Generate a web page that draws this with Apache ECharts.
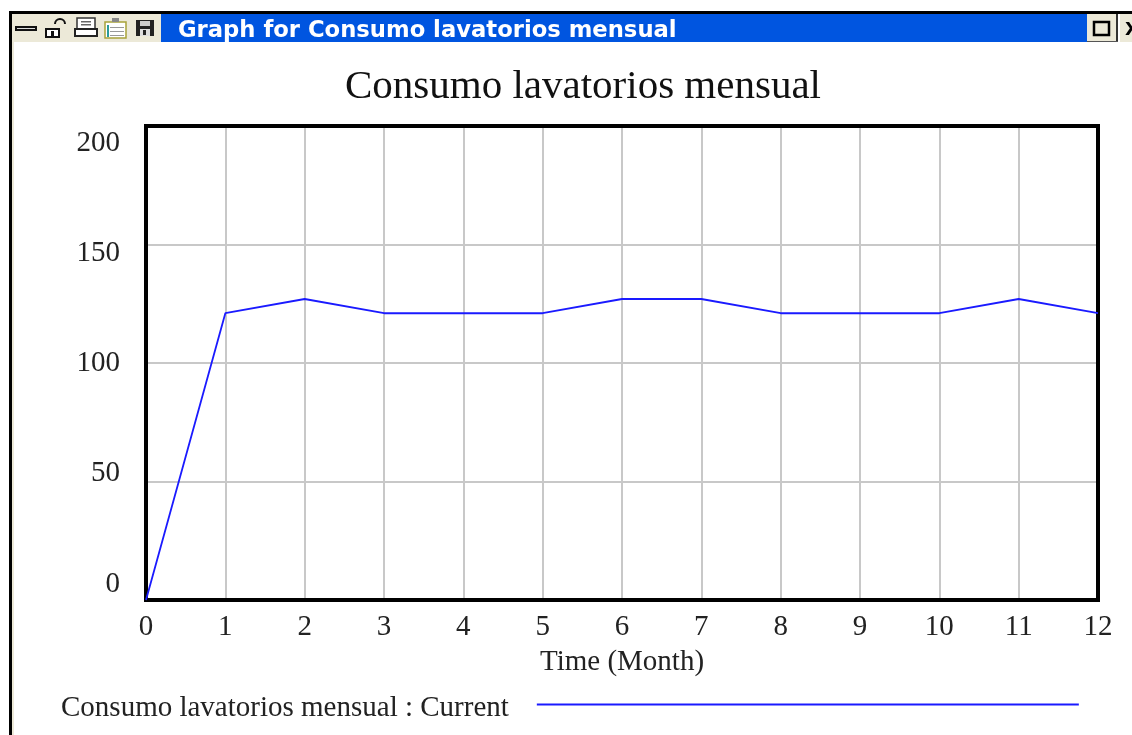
<!DOCTYPE html>
<html>
<head>
<meta charset="utf-8">
<style>html,body{margin:0;padding:0;background:#fff}#c{width:1132px;height:735px}</style>
<script src="https://cdn.jsdelivr.net/npm/echarts@6/dist/echarts.min.js"></script>
</head>
<body>
<div id="c"></div>
<script>
const chartTitle = 'Consumo lavatorios mensual';
const windowTitle = 'Graph for Consumo lavatorios mensual';
const seriesName = 'Consumo lavatorios mensual : Current';
const xName = 'Time (Month)';
const months = [0,1,2,3,4,5,6,7,8,9,10,11,12];
const consumo = [0,121,127,121,121,121,127,127,121,121,121,127,121];

const serif = '"Liberation Serif","Times New Roman",serif';
const beige = '#ECE9D8';
const R = (x,y,w,h,fill,extra) => ({type:'rect',silent:true,shape:{x,y,width:w,height:h},style:Object.assign({fill},extra||{})});
const chrome = [
  R(9,11,1123,3,'#000'), R(9,11,3,724,'#000'), R(12,14,2,721,beige),
  R(12,14,149,28,beige),
  R(161,14,926,28,'#0055E0'),
  R(1087,14,30,28,beige), R(1116,14,2,28,'#333'), R(1087,41,31,1,'#555'),
  R(1094,22,15,13,beige,{stroke:'#000',lineWidth:2.5}),
  R(1120,14,12,28,beige),
  {type:'text',silent:true,style:{x:1125,y:21,text:'X',fill:'#000',font:'bold 18px "DejaVu Sans"'}},
  // minimise
  R(16,27,20,3,'#ddd',{stroke:'#111',lineWidth:2}),
  // lock
  R(46,29,13,8,'#fff',{stroke:'#111',lineWidth:2}), R(51,31,3,6,'#111'),
  {type:'arc',silent:true,shape:{cx:60,cy:24,r:5,startAngle:Math.PI,endAngle:0},style:{stroke:'#111',lineWidth:2,fill:'none'}},
  // printer
  R(77,18,18,11,'#fff',{stroke:'#333',lineWidth:1.5}), R(75,29,22,7,'#fff',{stroke:'#222',lineWidth:2}),
  R(81,21,10,1.5,'#666'), R(81,24,10,1.5,'#666'),
  // clipboard
  R(105,22,21,16,'#fff',{stroke:'#A8A23A',lineWidth:1.5}), R(112,18,7,4,'#888'),
  R(107,25,2,12,'#2A9A9A'), R(110,27,14,1,'#999'), R(110,31,14,1,'#999'), R(110,35,14,1,'#999'),
  // disk
  R(136,20,18,16,'#222'), R(140,21,10,5,'#ccc'), R(140,29,10,7,'#ddd'), R(143,30,3,5,'#222'),
  {type:'text',silent:true,style:{x:178,y:20,text:windowTitle,fill:'#fff',font:'bold 22.7px "DejaVu Sans"'}}
];

const chart = echarts.init(document.getElementById('c'), null, {renderer:'canvas'});
chart.setOption({
  animation:false,
  backgroundColor:'#fff',
  title:{text:chartTitle,left:578,top:62,textAlign:'center',textStyle:{fontFamily:serif,fontSize:41,fontWeight:'normal',color:'#111'}},
  legend:{
    show:true,left:56,top:689,itemWidth:542,itemHeight:10,itemGap:0,align:'right',
    data:[{name:seriesName,icon:'path://M0 0H542V2H0Z M0 9.99H0.01V10H0Z'}],
    textStyle:{fontFamily:serif,fontSize:29,color:'#222',padding:[0,23,0,0]},
    itemStyle:{color:'#1a1aff'}
  },
  grid:[
    {left:146,top:126,width:952,height:474,show:true,borderColor:'#000',borderWidth:4,backgroundColor:'transparent',z:4},
    {left:146,top:143,width:952,height:441}
  ],
  xAxis:[
    {type:'value',gridIndex:0,min:0,max:12,interval:1,name:xName,nameLocation:'middle',nameGap:48,
     nameTextStyle:{fontFamily:serif,fontSize:29,color:'#222'},
     axisLine:{show:false},axisTick:{show:false},
     axisLabel:{fontFamily:serif,fontSize:29,color:'#222',margin:13,hideOverlap:false,showMinLabel:true,showMaxLabel:true},
     splitLine:{show:true,lineStyle:{color:'#C8C8C8',width:2}}},
    {type:'value',gridIndex:1,min:0,max:12,show:false}
  ],
  yAxis:[
    {type:'value',gridIndex:0,min:0,max:200,interval:50,
     axisLine:{show:false},axisTick:{show:false},axisLabel:{show:false},
     splitLine:{show:true,lineStyle:{color:'#C8C8C8',width:2}}},
    {type:'value',gridIndex:1,min:0,max:200,interval:50,
     axisLine:{show:false},axisTick:{show:false},splitLine:{show:false},
     axisLabel:{fontFamily:serif,fontSize:29,color:'#222',margin:26,showMinLabel:true,showMaxLabel:true}}
  ],
  series:[{
    name:seriesName,type:'line',xAxisIndex:0,yAxisIndex:0,z:6,
    data:months.map((m,i)=>[m,consumo[i]]),
    showSymbol:false,symbol:'none',clip:false,
    lineStyle:{color:'#1a1aff',width:1.8},itemStyle:{color:'#1a1aff'}
  }],
  graphic:chrome
});
</script>
</body>
</html>
